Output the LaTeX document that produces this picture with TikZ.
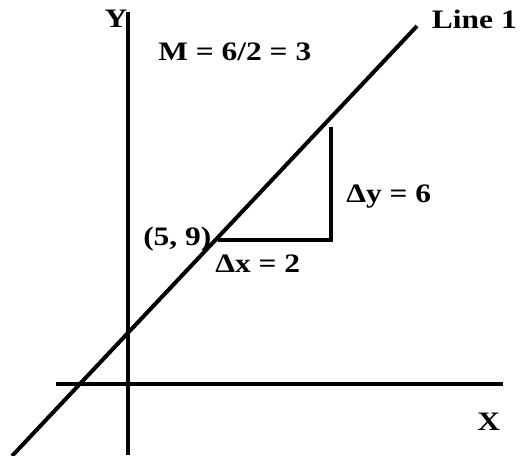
\documentclass[tikz,border=0pt]{standalone}
\usepackage{fontspec}
\setmainfont[FakeStretch=1.18]{Liberation Serif}
\begin{document}
\begin{tikzpicture}[x=0.75pt,y=-0.75pt,
  axis/.style={line width=3pt},
  lbl/.style={font=\fontsize{20pt}{22pt}\selectfont\bfseries, inner sep=0pt}]
\useasboundingbox (0,0) rectangle (523,455);
% axes
\coordinate (ytop) at (128,12);
\coordinate (ybot) at (128,455);
\coordinate (xl) at (56,384);
\coordinate (xr) at (503,384);
\draw[axis] (ytop) -- (ybot);
\draw[axis] (xl) -- (xr);
% line 1
\coordinate (lb) at (12,456);
\coordinate (lt) at (417,26);
\draw[axis] (lb) -- (lt);
% triangle
\coordinate (p) at (218,240);
\coordinate (c) at (331,240);
\coordinate (t) at (331,127);
\draw[axis] (p) -- (c) -- (t);
% labels
\node[lbl, anchor=base] (ylab) at (116,27) {Y};
\node[lbl, anchor=base west] (m) at (158,60) {M = 6/2 = 3};
\node[lbl, anchor=base east] (line1) at (517,28) {Line 1};
\node[lbl, anchor=base west] (dy) at (346,202) {Δy = 6};
\node[lbl, anchor=base west] (pt) at (143,245) {(5, 9)};
\node[lbl, anchor=base west] (dx) at (215,272) {Δx = 2};
\node[lbl, anchor=base west] (xlab) at (477,430) {X};
\end{tikzpicture}
\end{document}
